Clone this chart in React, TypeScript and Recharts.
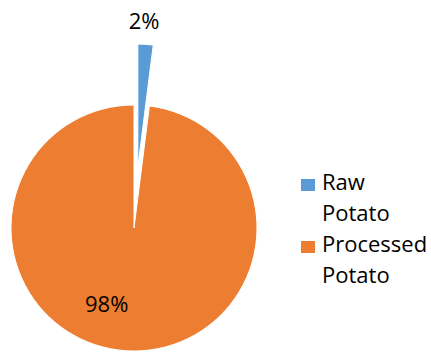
import React from "react";
import { PieChart, Pie, Cell, Legend } from "recharts";

// --- Data ---
const categories = ["Raw Potato", "Processed Potato"];
const shares = [2, 98];
const colors = ["#5B9BD5", "#ED7D31"];

const data = categories.map((name, i) => ({ name, value: shares[i] }));

const FONT = "'Open Sans', sans-serif";
const CX = 134;
const CY = 228;
const R = 123;
const EXPLODE = 61; // how far the small slice is pulled out

// mid angle of the first (exploded) slice, pie starts at 12 o'clock going clockwise
const total = shares.reduce((a, b) => a + b, 0);
const firstMid = 90 - ((shares[0] / total) * 360) / 2;
const RAD = Math.PI / 180;
const dx = EXPLODE * Math.cos(firstMid * RAD);
const dy = -EXPLODE * Math.sin(firstMid * RAD);

const pctText = (p: number) => `${Math.round(p * 100)}%`;

// label for the exploded slice: just outside the arc
const outsideLabel = (props: any) => {
  if (props.index !== 0) return null;
  const r = props.outerRadius + 24;
  const x = props.cx + r * Math.cos(props.midAngle * RAD);
  const y = props.cy - r * Math.sin(props.midAngle * RAD);
  return (
    <text x={x - 3} y={y} textAnchor="middle" dominantBaseline="central" fill="#000" fontSize={22} fontFamily={FONT}>
      {pctText(props.percent)}
    </text>
  );
};

// label for the big slice: inside, lower-left (Excel "best fit")
const insideLabel = (props: any) => {
  if (props.index !== 1) return null;
  const r = props.outerRadius * 0.65;
  const a = 250;
  const x = props.cx + r * Math.cos(a * RAD);
  const y = props.cy - r * Math.sin(a * RAD);
  return (
    <text x={x} y={y} textAnchor="middle" dominantBaseline="central" fill="#000" fontSize={22} fontFamily={FONT}>
      {pctText(props.percent)}
    </text>
  );
};

const LegendContent = () => (
  <div style={{ fontFamily: FONT, fontSize: 22, lineHeight: "31px", color: "#000" }}>
    {categories.map((c, i) => (
      <div key={c} style={{ display: "flex", alignItems: "flex-start" }}>
        <span
          style={{
            display: "inline-block",
            width: 14,
            height: 12,
            background: colors[i],
            marginTop: 13,
            marginRight: 7,
          }}
        />
        <div>
          {c.split(" ").map((w) => (
            <div key={w}>{w}</div>
          ))}
        </div>
      </div>
    ))}
  </div>
);

export default function App() {
  return (
    <div style={{ position: "absolute", left: 0, top: 0, background: "#fff" }}>
      <PieChart width={431} height={352} margin={{ top: 0, right: 0, bottom: 0, left: 0 }}>
        {/* big slice stays in place */}
        <Pie
          data={data}
          dataKey="value"
          cx={CX}
          cy={CY}
          outerRadius={R}
          startAngle={90}
          endAngle={-270}
          stroke="#fff"
          strokeWidth={1}
          label={insideLabel}
          labelLine={false}
          isAnimationActive={false}
          legendType="none"
        >
          {data.map((d, i) => (
            <Cell key={d.name} fill={i === 0 ? "transparent" : colors[i]} stroke={i === 0 ? "none" : "#fff"} />
          ))}
        </Pie>
        {/* small slice, pulled out along its bisector */}
        <Pie
          data={data}
          dataKey="value"
          cx={CX + dx}
          cy={CY + dy}
          outerRadius={R}
          startAngle={90}
          endAngle={-270}
          stroke="#fff"
          strokeWidth={1}
          label={outsideLabel}
          labelLine={false}
          isAnimationActive={false}
          legendType="none"
        >
          {data.map((d, i) => (
            <Cell key={d.name} fill={i === 0 ? colors[i] : "transparent"} stroke={i === 0 ? "#fff" : "none"} />
          ))}
        </Pie>
        <Legend
          layout="vertical"
          align="right"
          verticalAlign="top"
          content={<LegendContent />}
          wrapperStyle={{ left: 301, top: 166, width: 130, right: "auto" }}
        />
      </PieChart>
    </div>
  );
}
